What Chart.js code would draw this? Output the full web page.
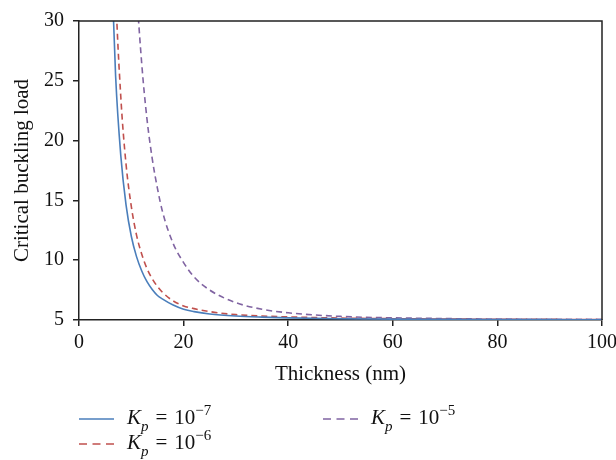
<!DOCTYPE html>
<html>
<head>
<meta charset="utf-8">
<script src="https://cdn.jsdelivr.net/npm/chart.js@4"></script>
<style>
    body { margin: 0; background: #fff; }
    #container { position: relative; width: 616px; height: 460px; }
    .legend-item { position: absolute; display: flex; align-items: center; font-family: 'Liberation Serif', serif; font-size: 21px; color: #111; white-space: nowrap; }
    .legend-item svg { margin-right: 13px; }
    .legend-item sub { font-size: 15px; font-style: italic; vertical-align: -7px; }
    .legend-item sup { font-size: 15px; vertical-align: 9px; }
    .legend-item .eq { margin: 0 7px; }
</style>
</head>
<body>
<div id="container">
    <canvas id="bucklingChart" width="616" height="460"></canvas>
    <div class="legend-item" id="leg7" style="left:79px; top:402px;"></div>
    <div class="legend-item" id="leg6" style="left:79px; top:427px;"></div>
    <div class="legend-item" id="leg5" style="left:323px; top:402px;"></div>
</div>
<script>
// thickness in nm
const thickness = [6, 7, 8, 9, 10, 11, 12, 13, 14, 15, 16, 18, 20, 22, 25, 30, 35, 40, 50, 60, 70, 80, 90, 100];
const loadKp7 = [37.4, 25.4, 18.7, 14.6, 12.0, 10.3, 9.1, 8.2, 7.55, 7.05, 6.75, 6.25, 5.9, 5.7, 5.5, 5.33, 5.24, 5.18, 5.11, 5.07, 5.05, 5.04, 5.03, 5.02];
const loadKp6 = [49, 32.7, 23.6, 18.0, 14.5, 12.1, 10.5, 9.3, 8.45, 7.8, 7.3, 6.6, 6.18, 5.95, 5.7, 5.45, 5.33, 5.26, 5.16, 5.11, 5.08, 5.06, 5.05, 5.04];
const loadKp5 = [null, null, null, null, 42, 32.8, 26.4, 21.8, 18.5, 16.0, 14.0, 11.4, 9.8, 8.6, 7.5, 6.45, 5.9, 5.6, 5.3, 5.18, 5.12, 5.08, 5.06, 5.05];

const seriesExp = ['7', '6', '5'];
const seriesColors = ['#4a7ebb', '#c0504d', '#8064a2'];
const seriesDash = [[], [6, 4], [6, 4]];
const legendDash = [[], [8, 5.5], [8, 5.5]];

const xTicks = [0, 20, 40, 60, 80, 100];
const yTicks = [5, 10, 15, 20, 25, 30];

document.addEventListener('DOMContentLoaded', function () {
    function toPoints(values) {
        return thickness.map((t, i) => ({ x: t, y: values[i] }));
    }

    const allLoads = [loadKp7, loadKp6, loadKp5];
    const datasets = allLoads.map((values, i) => ({
        label: 'Kp = 10^-' + seriesExp[i],
        data: toPoints(values),
        borderColor: seriesColors[i],
        borderWidth: 1.6,
        borderDash: seriesDash[i],
        pointRadius: 0,
        fill: false,
        cubicInterpolationMode: 'monotone'
    }));

    // box round the plot (top and right sides)
    const frame = {
        id: 'frame',
        afterDraw(chart) {
            const { ctx, chartArea } = chart;
            ctx.save();
            ctx.strokeStyle = '#222';
            ctx.lineWidth = 1.5;
            ctx.beginPath();
            ctx.moveTo(chartArea.left, chartArea.top);
            ctx.lineTo(chartArea.right, chartArea.top);
            ctx.lineTo(chartArea.right, chartArea.bottom);
            ctx.stroke();
            ctx.restore();
        }
    };

    const tickFont = { family: 'Liberation Serif', size: 20 };
    const titleFont = { family: 'Liberation Serif', size: 21 };

    const config = {
        type: 'line',
        data: { datasets: datasets },
        options: {
            responsive: false,
            animation: false,
            layout: { padding: { top: 17, right: 14, bottom: 73, left: 0 } },
            plugins: {
                legend: { display: false },
                tooltip: { enabled: false }
            },
            scales: {
                x: {
                    type: 'linear',
                    min: 0,
                    max: 100,
                    afterBuildTicks: s => { s.ticks = xTicks.map(v => ({ value: v })); },
                    afterFit: s => { s.height = 67; s.paddingRight = 0; },
                    grid: { drawOnChartArea: false, drawTicks: true, tickLength: 6, color: '#222', lineWidth: 1.5 },
                    border: { color: '#222', width: 1.5 },
                    ticks: { color: '#111', font: tickFont, padding: 5, maxRotation: 0 },
                    title: { display: true, text: 'Thickness (nm)', color: '#111', font: titleFont, padding: 0 }
                },
                y: {
                    type: 'linear',
                    min: 5,
                    max: 30,
                    afterBuildTicks: s => { s.ticks = yTicks.map(v => ({ value: v })); },
                    afterFit: s => { s.width = 79; },
                    grid: { drawOnChartArea: false, drawTicks: true, tickLength: 6, color: '#222', lineWidth: 1.5 },
                    border: { color: '#222', width: 1.5 },
                    ticks: { color: '#111', font: tickFont, padding: 9 },
                    title: { display: true, text: 'Critical buckling load', color: '#111', font: titleFont, padding: { top: 10, bottom: 0 } }
                }
            }
        },
        plugins: [frame]
    };

    const ctx = document.getElementById('bucklingChart').getContext('2d');
    const myChart = new Chart(ctx, config);

    // legend laid out like the reference: two rows, two columns
    const legendIds = ['leg7', 'leg6', 'leg5'];
    legendIds.forEach((id, i) => {
        const el = document.getElementById(id);
        const dash = legendDash[i].length ? legendDash[i].join(' ') : 'none';
        el.innerHTML = `
            <svg width="35" height="4"><line x1="0" y1="2" x2="35" y2="2" stroke="${seriesColors[i]}" stroke-width="1.6" stroke-dasharray="${dash}"/></svg>
            <span><i>K</i><sub>p</sub><span class="eq">=</span>10<sup>−${seriesExp[i]}</sup></span>
        `;
    });
});
</script>
</body>
</html>
